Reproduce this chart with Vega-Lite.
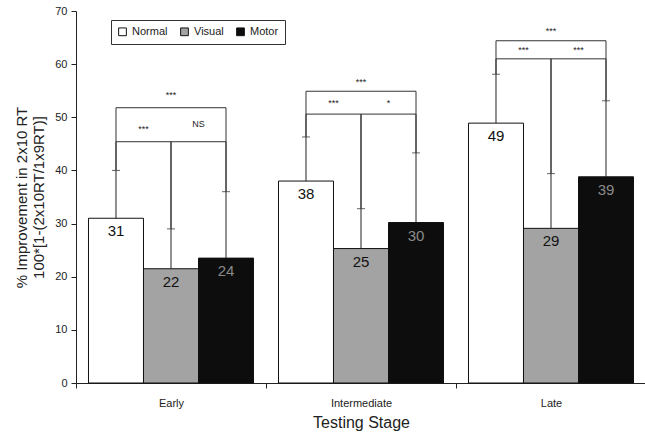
{
  "$schema": "https://vega.github.io/schema/vega-lite/v6.json",
  "autosize": {"type": "none"},
  "padding": {"left": 76, "top": 11, "right": 0, "bottom": 51},
  "width": 570,
  "height": 372,
  "config": {
    "view": {"stroke": null},
    "font": "Liberation Sans",
    "axis": {"labelFont": "Liberation Sans", "titleFont": "Liberation Sans", "labelColor": "#222", "titleColor": "#222", "domainColor": "#222", "tickColor": "#222", "titleFontWeight": "normal", "grid": false},
    "legend": {"labelFont": "Liberation Sans"}
  },
  "resolve": {"scale": {"xOffset": "independent"}},
  "datasets": {
    "bars": [
      {"stage": "Early", "group": "Normal", "value": 31.0, "label": "31", "err": 40.0},
      {"stage": "Early", "group": "Visual", "value": 21.5, "label": "22", "err": 29.0},
      {"stage": "Early", "group": "Motor", "value": 23.5, "label": "24", "err": 36.0},
      {"stage": "Intermediate", "group": "Normal", "value": 38.0, "label": "38", "err": 46.3},
      {"stage": "Intermediate", "group": "Visual", "value": 25.3, "label": "25", "err": 32.8},
      {"stage": "Intermediate", "group": "Motor", "value": 30.2, "label": "30", "err": 43.3},
      {"stage": "Late", "group": "Normal", "value": 48.9, "label": "49", "err": 58.1},
      {"stage": "Late", "group": "Visual", "value": 29.1, "label": "29", "err": 39.4},
      {"stage": "Late", "group": "Motor", "value": 38.8, "label": "39", "err": 53.1}
    ],
    "brackets": [
      {"id": "E0", "stage": "Early", "pos": "Normal", "y": 40.0, "ord": 1},
      {"id": "E0", "stage": "Early", "pos": "Normal", "y": 51.8, "ord": 2},
      {"id": "E0", "stage": "Early", "pos": "Motor", "y": 51.8, "ord": 3},
      {"id": "E0", "stage": "Early", "pos": "Motor", "y": 36.0, "ord": 4},
      {"id": "E1", "stage": "Early", "pos": "Normal", "y": 40.0, "ord": 1},
      {"id": "E1", "stage": "Early", "pos": "Normal", "y": 45.4, "ord": 2},
      {"id": "E1", "stage": "Early", "pos": "Visual", "y": 45.4, "ord": 3},
      {"id": "E1", "stage": "Early", "pos": "Visual", "y": 29.0, "ord": 4},
      {"id": "E2", "stage": "Early", "pos": "Visual", "y": 29.0, "ord": 1},
      {"id": "E2", "stage": "Early", "pos": "Visual", "y": 45.4, "ord": 2},
      {"id": "E2", "stage": "Early", "pos": "Motor", "y": 45.4, "ord": 3},
      {"id": "E2", "stage": "Early", "pos": "Motor", "y": 36.0, "ord": 4},
      {"id": "I0", "stage": "Intermediate", "pos": "Normal", "y": 46.3, "ord": 1},
      {"id": "I0", "stage": "Intermediate", "pos": "Normal", "y": 54.9, "ord": 2},
      {"id": "I0", "stage": "Intermediate", "pos": "Motor", "y": 54.9, "ord": 3},
      {"id": "I0", "stage": "Intermediate", "pos": "Motor", "y": 43.3, "ord": 4},
      {"id": "I1", "stage": "Intermediate", "pos": "Normal", "y": 46.3, "ord": 1},
      {"id": "I1", "stage": "Intermediate", "pos": "Normal", "y": 50.6, "ord": 2},
      {"id": "I1", "stage": "Intermediate", "pos": "Visual", "y": 50.6, "ord": 3},
      {"id": "I1", "stage": "Intermediate", "pos": "Visual", "y": 32.8, "ord": 4},
      {"id": "I2", "stage": "Intermediate", "pos": "Visual", "y": 32.8, "ord": 1},
      {"id": "I2", "stage": "Intermediate", "pos": "Visual", "y": 50.6, "ord": 2},
      {"id": "I2", "stage": "Intermediate", "pos": "Motor", "y": 50.6, "ord": 3},
      {"id": "I2", "stage": "Intermediate", "pos": "Motor", "y": 43.3, "ord": 4},
      {"id": "L0", "stage": "Late", "pos": "Normal", "y": 58.1, "ord": 1},
      {"id": "L0", "stage": "Late", "pos": "Normal", "y": 64.4, "ord": 2},
      {"id": "L0", "stage": "Late", "pos": "Motor", "y": 64.4, "ord": 3},
      {"id": "L0", "stage": "Late", "pos": "Motor", "y": 53.1, "ord": 4},
      {"id": "L1", "stage": "Late", "pos": "Normal", "y": 58.1, "ord": 1},
      {"id": "L1", "stage": "Late", "pos": "Normal", "y": 61.0, "ord": 2},
      {"id": "L1", "stage": "Late", "pos": "Visual", "y": 61.0, "ord": 3},
      {"id": "L1", "stage": "Late", "pos": "Visual", "y": 39.4, "ord": 4},
      {"id": "L2", "stage": "Late", "pos": "Visual", "y": 39.4, "ord": 1},
      {"id": "L2", "stage": "Late", "pos": "Visual", "y": 61.0, "ord": 2},
      {"id": "L2", "stage": "Late", "pos": "Motor", "y": 61.0, "ord": 3},
      {"id": "L2", "stage": "Late", "pos": "Motor", "y": 53.1, "ord": 4}
    ],
    "stars": [
      {"stage": "Early", "pos": "Visual", "y": 54.2, "text": "***"},
      {"stage": "Early", "pos": "N-V", "y": 47.8, "text": "***"},
      {"stage": "Early", "pos": "V-M", "y": 48.7, "text": "NS"},
      {"stage": "Intermediate", "pos": "Visual", "y": 56.6, "text": "***"},
      {"stage": "Intermediate", "pos": "N-V", "y": 52.7, "text": "***"},
      {"stage": "Intermediate", "pos": "V-M", "y": 52.7, "text": "*"},
      {"stage": "Late", "pos": "Visual", "y": 66.2, "text": "***"},
      {"stage": "Late", "pos": "N-V", "y": 62.7, "text": "***"},
      {"stage": "Late", "pos": "V-M", "y": 62.7, "text": "***"}
    ]
  },
  "encoding": {
    "x": {
      "field": "stage", "type": "nominal", "sort": ["Early", "Intermediate", "Late"],
      "scale": {"paddingInner": 0, "paddingOuter": 0},
      "axis": {"title": "Testing Stage", "titleFontSize": 16, "labelFontSize": 11, "labelAngle": 0, "tickBand": "extent", "tickSize": 5, "labelPadding": 9, "titlePadding": 6}
    },
    "y": {
      "type": "quantitative",
      "scale": {"domain": [0, 70]},
      "axis": {"title": ["% Improvement in 2x10 RT", "100*[1-(2x10RT/1x9RT)]"], "titleFontSize": 15, "titleLineHeight": 17, "labelFontSize": 11, "values": [0, 10, 20, 30, 40, 50, 60, 70], "tickSize": 5, "labelPadding": 4, "titlePadding": 8}
    }
  },
  "layer": [
    {
      "data": {"name": "bars"},
      "mark": {"type": "bar", "stroke": "#111", "strokeWidth": 1},
      "encoding": {
        "xOffset": {"field": "group", "type": "nominal", "scale": {"domain": ["Normal", "Visual", "Motor"], "paddingInner": 0, "paddingOuter": 0.227}},
        "y": {"field": "value", "type": "quantitative"},
        "color": {
          "field": "group", "type": "nominal",
          "scale": {"domain": ["Normal", "Visual", "Motor"], "range": ["#ffffff", "#a3a3a3", "#0d0d0d"]},
          "legend": {"title": null, "orient": "none", "legendX": 35, "legendY": 9, "direction": "horizontal", "symbolType": "square", "symbolSize": 60, "symbolStrokeColor": "#111", "symbolStrokeWidth": 1, "labelFontSize": 11, "labelColor": "#222", "columnPadding": 10, "strokeColor": "#333", "padding": 6, "fillColor": "white"}
        }
      }
    },
    {
      "layer": [
        {
          "data": {"name": "bars"},
          "mark": {"type": "rule", "color": "#222", "strokeWidth": 1},
          "encoding": {
            "xOffset": {"field": "group", "type": "nominal", "scale": {"domain": ["Normal", "N-V", "Visual", "V-M", "Motor"], "paddingInner": 0, "paddingOuter": 0.9545}},
            "y": {"field": "value", "type": "quantitative"},
            "y2": {"field": "err"}
          }
        },
        {
          "data": {"name": "bars"},
          "mark": {"type": "tick", "orient": "horizontal", "color": "#222", "size": 8, "thickness": 1},
          "encoding": {
            "xOffset": {"field": "group", "type": "nominal"},
            "y": {"field": "err", "type": "quantitative"}
          }
        },
        {
          "data": {"name": "brackets"},
          "mark": {"type": "line", "color": "#333", "strokeWidth": 1, "interpolate": "linear"},
          "encoding": {
            "xOffset": {"field": "pos", "type": "nominal"},
            "y": {"field": "y", "type": "quantitative"},
            "detail": {"field": "id"},
            "order": {"field": "ord", "type": "quantitative"}
          }
        },
        {
          "data": {"name": "bars"},
          "mark": {"type": "text", "baseline": "top", "dy": 6, "fontSize": 15, "font": "Liberation Sans"},
          "encoding": {
            "xOffset": {"field": "group", "type": "nominal"},
            "y": {"field": "value", "type": "quantitative"},
            "text": {"field": "label"},
            "color": {"condition": {"test": "datum.group === 'Motor'", "value": "#8a8a8a"}, "value": "#111"}
          }
        },
        {
          "data": {"name": "stars"},
          "mark": {"type": "text", "baseline": "middle", "fontSize": 9, "color": "#222", "font": "Liberation Sans"},
          "encoding": {
            "xOffset": {"field": "pos", "type": "nominal"},
            "y": {"field": "y", "type": "quantitative"},
            "text": {"field": "text"}
          }
        }
      ]
    }
  ]
}
